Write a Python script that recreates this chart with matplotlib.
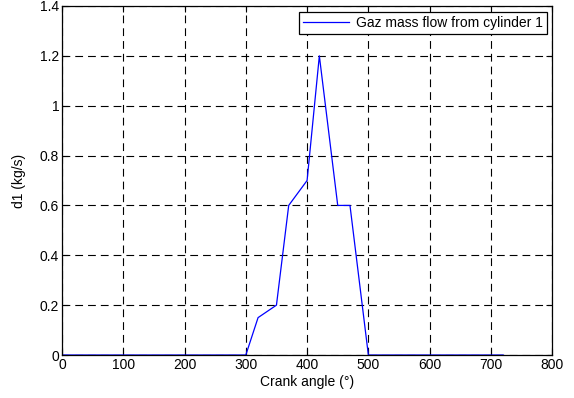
import matplotlib
matplotlib.use("Agg")
from matplotlib import pyplot as plt

crank_angle = [0, 300, 320, 350, 370, 400, 420, 450, 470, 500, 720]
mass_flow = [0, 0, 0.15, 0.2, 0.6, 0.7, 1.2, 0.6, 0.6, 0, 0]

plt.rcParams["font.family"] = ["Liberation Sans", "DejaVu Sans"]
plt.rcParams["font.size"] = 10

fig = plt.figure(figsize=(5.74, 3.98), dpi=100)
ax = fig.add_axes([0.108, 0.108, 0.854, 0.877])

ax.plot(crank_angle, mass_flow, color="#0000ff", linewidth=0.9,
        label="Gaz mass flow from cylinder 1")

ax.set_xlim(0, 800)
ax.set_ylim(0, 1.4)
ax.set_xticks(range(0, 801, 100))
ax.set_yticks([0, 0.2, 0.4, 0.6, 0.8, 1, 1.2, 1.4])
ax.set_yticklabels(["0", "0.2", "0.4", "0.6", "0.8", "1", "1.2", "1.4"])
ax.tick_params(direction="in", top=True, right=True, length=4, width=0.8, pad=2)
ax.grid(True, color="black", linestyle=(0, (7, 4.5)), linewidth=0.8)
for s in ax.spines.values():
    s.set_linewidth(0.9)

ax.set_xlabel("Crank angle (°)", labelpad=2)
ax.set_ylabel("d1 (kg/s)", labelpad=10)

leg = ax.legend(loc="upper right", fancybox=False, framealpha=1,
                edgecolor="black", borderaxespad=0.4, handlelength=3.3,
                handletextpad=0.5, borderpad=0.3)
leg.get_frame().set_linewidth(0.9)

fig.savefig("out.png", dpi=100)
